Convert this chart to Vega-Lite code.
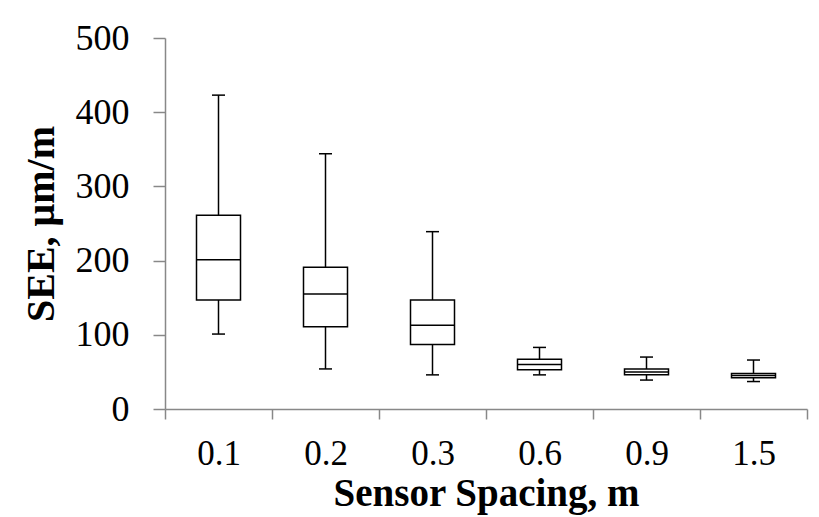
{
  "$schema": "https://vega.github.io/schema/vega-lite/v6.json",
  "autosize": "none",
  "width": 642,
  "height": 371,
  "padding": {"left": 165, "top": 38, "right": 12, "bottom": 108},
  "background": "white",
  "config": {
    "view": {"stroke": null},
    "font": "Liberation Serif"
  },
  "data": {
    "values": [
      {"spacing": "0.1", "min": 101, "q1": 147, "median": 201, "q3": 261, "max": 423},
      {"spacing": "0.2", "min": 54, "q1": 111, "median": 155, "q3": 191, "max": 344},
      {"spacing": "0.3", "min": 46, "q1": 87, "median": 113, "q3": 147, "max": 239},
      {"spacing": "0.6", "min": 46, "q1": 53, "median": 60, "q3": 67, "max": 83},
      {"spacing": "0.9", "min": 39, "q1": 46, "median": 50, "q3": 54, "max": 70},
      {"spacing": "1.5", "min": 37, "q1": 42, "median": 45, "q3": 48, "max": 66}
    ]
  },
  "encoding": {
    "x": {
      "field": "spacing",
      "type": "nominal",
      "sort": null,
      "scale": {"type": "band", "paddingInner": 0, "paddingOuter": 0},
      "axis": {
        "title": "Sensor Spacing, m",
        "labelAngle": 0,
        "tickBand": "extent",
        "domainColor": "#888888",
        "tickColor": "#888888",
        "tickSize": 10,
        "domainWidth": 1.5,
        "tickWidth": 1.5,
        "labelFont": "Liberation Serif",
        "labelFontSize": 35,
        "labelColor": "black",
        "labelPadding": 17,
        "titleFont": "Liberation Serif",
        "titleFontSize": 39,
        "titleFontWeight": "bold",
        "titleColor": "black",
        "titlePadding": 3
      }
    }
  },
  "layer": [
    {
      "mark": {"type": "rule", "color": "black", "strokeWidth": 1.5},
      "encoding": {
        "y": {
          "field": "min",
          "type": "quantitative",
          "scale": {"domain": [0, 500], "nice": false, "zero": true},
          "axis": {
            "title": "SEE, μm/m",
            "values": [0, 100, 200, 300, 400, 500],
            "grid": false,
            "domainColor": "#888888",
            "tickColor": "#888888",
            "tickSize": 12,
            "domainWidth": 1.5,
            "tickWidth": 1.5,
            "labelFont": "Liberation Serif",
            "labelFontSize": 36,
            "labelColor": "black",
            "labelPadding": 24,
            "titleFont": "Liberation Serif",
            "titleFontSize": 40,
            "titleFontWeight": "bold",
            "titleColor": "black",
            "titlePadding": 14
          }
        },
        "y2": {"field": "max"}
      }
    },
    {
      "mark": {"type": "bar", "width": 44, "fill": "white", "stroke": "black", "strokeWidth": 1.5},
      "encoding": {
        "y": {"field": "q1", "type": "quantitative"},
        "y2": {"field": "q3"}
      }
    },
    {
      "mark": {"type": "tick", "color": "black", "size": 44, "thickness": 1.5, "opacity": 1},
      "encoding": {
        "y": {"field": "median", "type": "quantitative"}
      }
    },
    {
      "mark": {"type": "tick", "color": "black", "size": 13, "thickness": 1.5, "opacity": 1},
      "encoding": {
        "y": {"field": "max", "type": "quantitative"}
      }
    },
    {
      "mark": {"type": "tick", "color": "black", "size": 13, "thickness": 1.5, "opacity": 1},
      "encoding": {
        "y": {"field": "min", "type": "quantitative"}
      }
    }
  ]
}
